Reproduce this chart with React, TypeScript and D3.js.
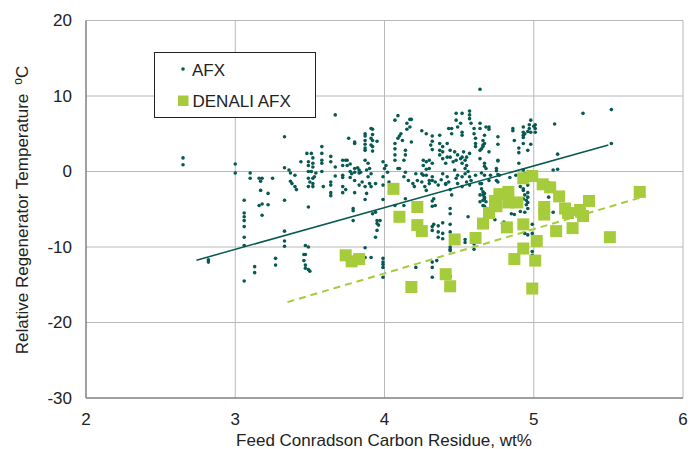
import React from "react";
import * as d3 from "d3";

const xTicks = [2, 3, 4, 5, 6];
const yTicks = [-30, -20, -10, 0, 10, 20];

// AFX data points [Feed CCR wt%, relative regen temp °C]
const afxPoints: [number, number][] = [
  [2.65,1.8],[2.65,0.9],[2.82,-11.7],[2.82,-12.0],[3.0,1.0],[3.0,-0.2],
  [3.06,-3.8],[3.06,-5.5],[3.06,-6.0],[3.06,-6.5],[3.06,-7.3],[3.06,-8.7],[3.06,-9.8],[3.06,-14.5],
  [3.10,-0.2],[3.10,-0.9],[3.13,-12.6],[3.13,-13.4],
  [3.16,-0.9],[3.18,-0.9],[3.17,-1.3],[3.17,-2.5],[3.22,-2.9],[3.16,-4.5],[3.18,-4.3],[3.22,-4.4],[3.18,-5.8],[3.25,-0.9],
  [3.27,-11.5],[3.27,-12.4],
  [3.33,4.6],[3.33,0.5],[3.33,-3.8],[3.33,-7.9],[3.33,-9.2],[3.33,-9.9],
  [3.36,0.2],[3.37,-0.2],[3.37,-1.3],[3.38,-1.6],[3.40,-2.0],[3.41,-2.4],[3.40,-0.5],
  [3.44,1.3],[3.48,2.4],[3.51,2.4],
  [3.49,0.0],[3.51,0.0],[3.54,-0.2],[3.49,-0.9],[3.52,-0.9],[3.53,-0.7],[3.50,-1.4],[3.49,-2.0],[3.52,-2.0],[3.52,-1.6],
  [3.49,1.3],[3.49,0.8],[3.52,1.8],[3.52,1.1],[3.52,0.6],
  [3.49,-4.7],
  [3.47,-9.8],[3.49,-10.0],[3.46,-11.0],[3.47,-11.0],[3.46,-11.8],[3.47,-12.4],[3.47,-12.8],[3.49,-13.0],[3.50,-13.2],
  [3.58,3.3],[3.58,2.4],[3.58,1.5],[3.58,1.1],[3.58,0.0],[3.59,-2.0],
  [3.64,2.0],[3.64,1.3],[3.64,-1.4],[3.64,-1.8],[3.64,-2.8],[3.64,-3.2],
  [3.67,0.6],[3.67,-0.6],[3.67,7.5],[3.76,4.4],[3.80,3.7],
  [3.72,1.5],[3.74,1.5],[3.75,1.5],[3.72,0.8],[3.75,0.8],[3.77,1.0],[3.72,-0.5],[3.72,-0.8],[3.77,0.0],[3.77,-0.8],[3.72,-2.0],[3.74,-2.4],[3.72,-2.8],
  [3.80,-0.1],[3.80,-1.2],[3.80,-2.8],[3.82,0.5],[3.83,0.2],[3.83,-0.2],[3.78,-0.3],
  [3.79,-4.9],[3.79,-5.2],[3.79,-6.5],
  [3.92,5.6],[3.92,4.9],[3.92,4.1],[3.92,3.3],[3.92,2.7],[3.95,4.0],[3.87,4.7],[3.87,4.1],[3.87,3.6],[3.87,2.8],[3.80,3.9],
  [3.87,5.0],[3.87,3.1],[3.91,5.7],[3.91,4.4],[3.91,3.5],
  [4.09,7.4],[4.07,6.8],[4.15,6.4],[4.17,6.9],[4.18,6.9],[4.17,5.9],[4.15,5.6],
  [4.11,5.0],[4.10,4.7],[4.09,4.4],[4.12,4.1],[4.18,3.9],
  [4.07,3.7],[4.07,3.0],[4.07,2.2],[4.07,1.5],[4.14,2.8],[4.14,2.2],[4.13,1.5],
  [4.25,5.4],[4.28,5.0],[4.32,4.7],[4.32,4.0],[4.32,2.9],[4.31,3.5],
  [4.37,4.8],[4.37,3.7],[4.37,2.8],[4.37,2.2],[4.39,3.3],[4.39,2.6],[4.39,1.7],[4.41,1.1],[4.42,3.7],[4.44,2.8],[4.42,1.9],
  [4.45,5.7],[4.45,5.0],[4.43,5.7],[4.44,1.9],
  [4.48,7.7],[4.52,7.7],[4.48,6.8],[4.51,6.4],[4.49,5.9],[4.52,5.2],[4.52,4.8],
  [4.57,8.0],[4.57,7.5],[4.57,7.0],[4.58,6.4],[4.60,5.7],[4.60,5.0],[4.61,4.4],[4.61,3.7],[4.61,3.3],
  [4.64,6.4],[4.64,5.7],[4.67,4.8],[4.66,3.3],[4.68,5.9],[4.66,4.1],
  [4.47,2.6],[4.49,2.2],[4.48,1.5],[4.46,1.3],[4.51,1.7],[4.52,1.1],[4.54,1.5],[4.55,1.9],[4.54,0.4],[4.56,0.0],
  [4.26,1.5],[4.26,0.8],[4.28,1.3],[4.30,1.5],[4.32,1.1],[4.30,0.4],[4.28,0.3],[4.25,-0.3],[4.26,-0.5],[4.28,-0.5],[4.32,-0.7],[4.30,-1.2],
  [3.80,0.4],[3.84,-0.1],[3.87,1.5],[3.89,1.1],[3.90,0.4],[3.88,0.2],[3.91,-0.3],[3.89,-0.7],
  [3.99,1.3],[4.00,0.4],[4.01,0.8],[4.02,-0.1],[4.09,0.4],[4.10,0.4],[3.99,-0.7],
  [4.14,-0.1],[4.13,-0.7],[4.21,-0.3],[4.22,-1.2],
  [4.39,-0.3],[4.42,-0.7],[4.38,-1.1],[4.41,-1.6],
  [4.47,0.2],[4.49,-0.5],[4.52,-0.7],[4.48,-0.9],[4.54,-0.3],[4.57,-0.7],[4.61,-0.5],
  [4.52,1.9],[4.55,0.8],[4.53,2.6],[4.57,2.4],
  [4.16,-1.2],[4.19,-1.6],[4.20,-2.0],[4.25,-1.4],[4.27,-2.0],[4.28,-2.5],[4.30,-1.6],[4.32,-1.2],[4.34,-1.4],[4.36,-1.8],
  [4.43,-1.4],[4.41,-1.7],[4.44,-2.4],[4.45,-3.1],[4.49,-1.6],[4.52,-2.0],[4.55,-1.4],[4.57,-1.8],[4.58,-1.2],
  [4.64,-1.6],[4.65,-2.3],[4.66,-2.7],[4.67,-3.4],
  [3.85,-1.4],[3.90,-1.6],[3.91,-2.0],[3.94,-1.6],[3.99,-1.8],[4.03,-1.4],[4.07,-1.8],
  [4.14,-3.6],[4.13,-4.5],[4.33,-3.6],[4.34,-4.5],[4.06,-2.0],[4.08,-2.5],
  [3.83,-1.8],[3.87,-2.0],[3.88,-2.9],[3.87,-3.7],
  [3.92,-5.6],[3.94,-5.4],[3.95,-6.5],[3.97,-6.5],[3.95,-6.9],[3.96,-7.1],[3.95,-7.8],[3.94,-8.7],
  [3.99,-3.7],[4.07,-4.5],[4.08,-5.6],
  [4.32,-3.9],[4.32,-4.6],[4.32,-7.3],[4.33,-7.0],[4.36,-7.2],[4.36,-8.0],[4.39,-8.2],[4.39,-8.9],[4.32,-7.8],[4.39,-6.8],
  [4.44,-7.0],[4.44,-8.0],[4.44,-4.9],[4.44,-5.6],[4.36,-8.7],[4.56,-6.0],[4.54,-9.4],
  [4.66,-3.1],[4.66,-3.8],[4.66,-4.5],
  [4.44,-10.0],[4.44,-10.3],[4.44,-10.5],
  [3.82,-11.8],[3.83,-12.1],[3.87,-11.4],[3.91,-11.4],[3.99,-11.5],[3.99,-12.0],[3.99,-12.3],[3.99,-12.7],[3.99,-14.0],
  [4.32,-12.0],[4.35,-11.8],[4.32,-12.7],[4.32,-14.0],[4.21,-12.7],
  [3.87,-10.1],[4.44,-13.9],[4.60,-9.6],[4.60,-10.3],
  [4.94,-8.2],[4.99,-8.2],[4.96,-8.4],[4.99,-11.1],[4.99,-10.6],
  [4.64,10.9],[5.33,7.7],[5.52,8.2],[5.52,3.7],[5.14,6.3],[5.16,2.3],[5.13,0.2],[5.16,0.3],
  [4.98,6.8],[4.97,6.2],[5.00,6.0],[5.01,5.7],[4.97,5.7],[5.01,6.2],[4.98,5.2],[5.01,5.2],
  [4.93,5.9],[4.93,5.2],[4.94,5.0],[4.93,4.8],[4.96,5.3],[4.86,5.7],[4.86,5.4],[4.87,4.1],[4.93,4.5],[4.93,3.7],[4.98,3.6],[4.90,3.1],[4.90,2.5],[4.96,2.8],[4.90,1.1],
  [4.76,4.6],[4.76,3.6],[4.76,1.5],[4.76,1.4],[4.70,5.9],[4.70,5.6],[4.66,3.5],[4.67,3.7],[4.65,3.0],[4.64,2.8],[4.70,2.6],[4.67,1.1],[4.67,0.7],
  [4.64,1.7],[4.65,-0.2],[4.67,-0.5],[4.75,0.1],[4.76,-0.4],[4.84,-0.8],[4.88,-0.5],[4.70,-1.2],[4.75,-1.2],
  [4.68,0.4],[4.71,-0.5],[4.75,0.4],[4.77,-0.5],[4.65,-1.6],[4.76,-1.4],
  [4.67,-2.9],[4.64,-3.1],[4.67,-3.6],[4.64,-4.0],[4.67,-4.6],[4.74,-6.4],[4.68,-4.0],[4.80,-6.7],[4.79,-6.9],[4.65,-6.5],
  [4.91,-2.0],[4.93,-2.3],[4.93,-2.5],[4.94,-3.1],[4.96,-1.8],[4.96,-2.8],[4.95,-3.8],[4.96,-4.1],[4.95,-4.4],[4.96,-4.9],
  [4.91,-5.3],[4.94,-5.4],[4.93,-3.6],[4.96,-3.4],[4.93,0.2],[4.94,-0.3],[4.99,-7.0],
  [5.10,-3.4],[5.10,-1.5],[5.13,-5.4],[5.10,-2.3],
  [4.85,-5.6],[4.87,-5.7],[4.60,-9.3],[4.54,-9.0]
];

// DENALI AFX data points
const denaliPoints: [number, number][] = [
  [3.74,-11.1],[3.78,-11.9],[3.83,-11.6],[4.06,-2.3],[4.10,-6.0],[4.18,-15.3],[4.22,-4.7],[4.22,-7.1],
  [4.25,-7.9],[4.41,-13.6],[4.44,-15.2],[4.47,-9.0],[4.61,-8.8],[4.66,-6.9],[4.70,-5.5],[4.74,-3.9],
  [4.75,-4.6],[4.77,-3.0],[4.83,-2.7],[4.83,-4.1],[4.89,-4.1],[4.82,-7.4],[4.87,-11.6],[4.93,-0.9],
  [4.93,-7.0],[4.93,-10.2],[4.99,-0.6],[4.99,-15.5],[5.01,-11.8],[5.02,-9.2],[5.06,-1.7],[5.07,-4.7],
  [5.07,-5.7],[5.11,-2.1],[5.15,-7.9],[5.17,-3.3],[5.21,-4.9],[5.23,-5.5],[5.26,-7.5],[5.31,-5.1],
  [5.33,-5.9],[5.37,-3.9],[5.51,-8.7],[5.71,-2.7]
];

// Linear trend lines (endpoints)
const afxTrend: [number, number][] = [[2.74, -11.75], [5.50, 3.5]];
const denaliTrend: [number, number][] = [[3.35, -17.3], [5.75, -3.25]];

const TEAL = "#065a52";
const GREEN = "#a6cb3b";
const FONT = "Liberation Sans, Arial, sans-serif";

export default function App() {
  const x = d3.scaleLinear().domain([2, 6]).range([86, 683]);
  const y = d3.scaleLinear().domain([-30, 20]).range([398, 20.5]);
  const line = d3.line<[number, number]>().x((d) => x(d[0])).y((d) => y(d[1]));
  const sq = 12;

  return (
    <svg
      width={699}
      height={449}
      style={{ position: "absolute", left: 0, top: 0, background: "#fff" }}
      fontFamily={FONT}
    >
      {/* grid */}
      {xTicks.slice(1).map((t) => (
        <line key={"gx" + t} x1={x(t)} x2={x(t)} y1={y(20)} y2={y(-30)} stroke="#b8b8b8" strokeWidth={1} />
      ))}
      {yTicks.slice(1).map((t) => (
        <line key={"gy" + t} x1={x(2)} x2={x(6)} y1={y(t)} y2={y(t)} stroke="#b8b8b8" strokeWidth={1} />
      ))}
      {/* axes */}
      <line x1={x(2)} x2={x(2)} y1={y(20)} y2={y(-30)} stroke="#808080" strokeWidth={1.5} />
      <line x1={x(2)} x2={x(6)} y1={y(-30)} y2={y(-30)} stroke="#808080" strokeWidth={1.5} />

      {/* tick labels */}
      {yTicks.map((t) => (
        <text key={"ly" + t} x={72} y={y(t)} dy="0.35em" textAnchor="end" fontSize={17} fill="#222">
          {t}
        </text>
      ))}
      {xTicks.map((t) => (
        <text key={"lx" + t} x={x(t)} y={425} textAnchor="middle" fontSize={17} fill="#222">
          {t}
        </text>
      ))}

      {/* axis titles */}
      <text x={384} y={446} textAnchor="middle" fontSize={17} fill="#222">
        Feed Conradson Carbon Residue, wt%
      </text>
      <text transform="translate(28,210) rotate(-90)" textAnchor="middle" fontSize={17} fill="#222">
        Relative Regenerator Temperature
        <tspan fontSize={12} dx={9} dy={-6}>o</tspan>
        <tspan dy={6}>C</tspan>
      </text>

      {/* AFX points */}
      {afxPoints.map((d, i) => (
        <circle key={"a" + i} cx={x(d[0])} cy={y(d[1])} r={1.8} fill={TEAL} />
      ))}
      {/* DENALI points */}
      {denaliPoints.map((d, i) => (
        <rect key={"d" + i} x={x(d[0]) - sq / 2} y={y(d[1]) - sq / 2} width={sq} height={sq} fill={GREEN} />
      ))}

      {/* trend lines */}
      <path d={line(afxTrend) || ""} stroke={TEAL} strokeWidth={1.5} fill="none" />
      <path d={line(denaliTrend) || ""} stroke={GREEN} strokeWidth={2} strokeDasharray="7,5" fill="none" />

      {/* legend */}
      <rect x={154.5} y={52.5} width={161} height={65} fill="#fff" stroke="#222" strokeWidth={1} />
      <circle cx={183} cy={69} r={1.8} fill={TEAL} />
      <text x={192} y={76} fontSize={17} fill="#222">AFX</text>
      <rect x={178} y={95.5} width={10.5} height={10.5} fill={GREEN} />
      <text x={192.5} y={107} fontSize={17} fill="#222">DENALI AFX</text>
    </svg>
  );
}
